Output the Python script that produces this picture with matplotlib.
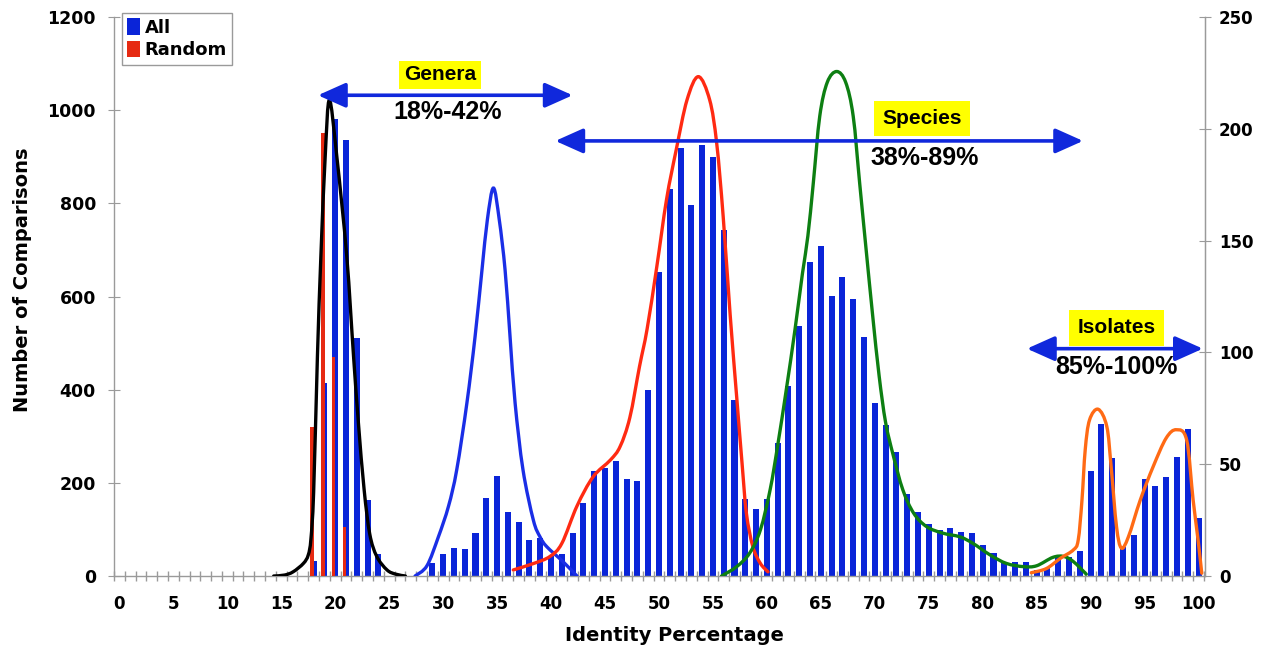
import numpy as np
import matplotlib
matplotlib.use("Agg")
import matplotlib.pyplot as plt
from matplotlib.path import Path
from matplotlib.patches import PathPatch, Patch

# ---------------- data ----------------
identity = list(range(101))
all_counts = [
    0, 0, 0, 0, 0, 0, 0, 0, 0, 0,            # 0-9
    0, 0, 0, 0, 0, 0, 0, 0, 32, 414,         # 10-19
    982, 937, 511, 163, 47, 0, 0, 0, 0, 27,  # 20-29
    47, 61, 58, 93, 168, 215, 138, 115, 77, 81,        # 30-39
    42, 47, 93, 157, 225, 231, 246, 208, 204, 400,     # 40-49
    652, 831, 919, 797, 926, 899, 743, 377, 165, 143,  # 50-59
    165, 286, 407, 536, 674, 709, 602, 641, 595, 512,  # 60-69
    371, 324, 267, 175, 138, 111, 99, 104, 94, 93,     # 70-79
    66, 50, 29, 31, 31, 12, 18, 42, 40, 54,            # 80-89
    226, 326, 253, 63, 88, 208, 193, 212, 256, 316,    # 90-99
    125,                                               # 100
]
random_pos = [18, 19, 20, 21]
random_counts = [320, 952, 470, 105]

black_x = [14.3, 15.3, 16.1, 17.05, 17.5, 17.75, 18.0, 18.35, 18.67, 19.07, 19.46,
           20.15, 21.07, 21.7, 22.15, 22.68, 23.2, 23.85, 24.8, 25.6, 26.5]
black_y = [0, 2, 9, 27, 45, 80, 180, 471, 686, 900, 1022,
           900, 686, 471, 328, 185, 90, 42, 13, 4, 0]

blue_x = [27.4, 28.5, 29.56, 30.5, 31.26, 32.2, 32.96, 33.6, 34.1, 34.66,
          35.2, 35.74, 36.2, 36.67, 37.4, 38.36, 38.98, 39.6, 41.1, 42.4]
blue_y = [0, 22, 84, 150, 228, 371, 514, 657, 765, 833,
          765, 657, 514, 371, 228, 120, 84, 63, 31, 0]

red_x = [36.5, 38.4, 39.9, 41.0, 42.4, 43.9, 45.5, 46.4, 47.3, 48.2, 48.9, 49.8,
         50.7, 51.6, 52.6, 53.65, 54.7, 55.35, 55.95, 56.6, 57.2, 57.7, 58.1,
         58.7, 59.4, 60.1]
red_y = [13, 27, 42, 70, 150, 213, 249, 278, 340, 450, 530, 664,
         808, 915, 1022, 1072, 1022, 929, 772, 560, 385, 242, 135,
         63, 27, 9]

green_x = [55.8, 57.2, 58.4, 59.4, 60.3, 61.0, 61.8, 62.6, 63.3, 63.8, 64.3, 64.9,
           65.6, 66.47, 67.3, 68.0, 68.6, 69.2, 69.8, 70.4, 71.0, 71.7, 72.6,
           73.6, 74.8, 76.3, 77.9, 79.1, 80.7, 82.2, 83.8, 85.0, 86.5, 87.5,
           88.4, 89.6]
green_y = [0, 20, 49, 99, 185, 280, 400, 528, 650, 730, 843, 987,
           1060, 1083, 1060, 987, 843, 700, 560, 430, 330, 260, 185,
           135, 106, 92, 84, 70, 45, 27, 20, 22, 40, 42,
           31, 4]

orange_x = [84.5, 85.9, 87.2, 88.4, 88.85, 89.2, 89.5, 89.9, 90.7, 91.5, 91.9,
            92.4, 92.85, 93.5, 94.6, 95.8, 97.0, 97.95, 98.9, 99.5, 99.96, 100.3]
orange_y = [7, 16, 38, 56, 77, 163, 271, 335, 358, 321, 235,
            106, 60, 84, 163, 235, 296, 314, 292, 163, 77, 6]

x_major = list(range(0, 101, 5))
left_ticks = [0, 200, 400, 600, 800, 1000, 1200]
right_ticks = [0, 50, 100, 150, 200, 250]

# annotation ranges (arrow ends and height, in data units)
genera_span = (18.4, 42.0, 1032)
species_span = (40.4, 89.3, 934)
isolates_span = (84.1, 100.4, 488)

# ---------------- styling ----------------
BLUE_BAR = "#0a24d8"
RED_BAR = "#e62a12"
ARROW_BLUE = "#1028dc"
GREY = "#9a9a9a"

plt.rcParams["font.family"] = ["DejaVu Sans"]

fig = plt.figure(figsize=(12.67, 6.52), dpi=100)
L, R, B, T = 114 / 1267, 1205 / 1267, 1 - 576 / 652, 1 - 17 / 652
ax = fig.add_axes([L, B, R - L, T - B])

ax.bar(identity, all_counts, width=0.56, color=BLUE_BAR, zorder=2)
ax.bar([p - 0.15 for p in random_pos], random_counts, width=0.33, color=RED_BAR, zorder=3)


def smooth_path(xs, ys):
    pts = np.column_stack([xs, ys]).astype(float)
    n = len(pts)
    verts = [pts[0]]
    codes = [Path.MOVETO]
    for i in range(n - 1):
        p0 = pts[i - 1] if i > 0 else pts[i]
        p1 = pts[i]
        p2 = pts[i + 1]
        p3 = pts[i + 2] if i + 2 < n else pts[i + 1]
        c1 = p1 + (p2 - p0) / 6.0
        c2 = p2 - (p3 - p1) / 6.0
        verts += [c1, c2, p2]
        codes += [Path.CURVE4] * 3
    return Path(verts, codes)


for xs, ys, col in [(black_x, black_y, "black"), (blue_x, blue_y, "#1a2ee6"),
                    (red_x, red_y, "#ff2a12"), (green_x, green_y, "#0d7f12"),
                    (orange_x, orange_y, "#ff6a14")]:
    ax.add_patch(PathPatch(smooth_path(xs, ys), fill=False, edgecolor=col,
                           lw=2.4, zorder=4, capstyle="round", joinstyle="round"))

ax.set_xlim(-0.5, 100.6)
ax.set_ylim(0, 1200)

ax.spines["top"].set_visible(False)
for s in ["left", "bottom", "right"]:
    ax.spines[s].set_color(GREY)
    ax.spines[s].set_linewidth(1.0)

ax.set_xticks(x_major)
ax.set_xticks(np.arange(-0.5, 101, 1.0), minor=True)
ax.tick_params(axis="x", which="major", length=0, pad=14, labelsize=12)
ax.tick_params(axis="x", which="minor", length=7, direction="inout", color=GREY, width=1)
for lab in ax.get_xticklabels():
    lab.set_fontweight("bold")

ax.set_yticks(left_ticks)
ax.tick_params(axis="y", which="major", length=8, direction="inout", color=GREY,
               labelsize=12.5, pad=9)
for lab in ax.get_yticklabels():
    lab.set_fontweight("bold")

ax2 = ax.twinx()
ax2.set_ylim(0, 250)
ax2.set_yticks(right_ticks)
ax2.spines["top"].set_visible(False)
ax2.spines["left"].set_visible(False)
ax2.spines["bottom"].set_visible(False)
ax2.spines["right"].set_color(GREY)
ax2.tick_params(axis="y", length=8, direction="inout", color=GREY, labelsize=12, pad=6)
for lab in ax2.get_yticklabels():
    lab.set_fontweight("bold")

ax.set_xlabel("Identity Percentage", fontsize=14, fontweight="bold")
ax.xaxis.set_label_coords((674.5 - 114) / 1091, (576 - 626) / 559)
ax.set_ylabel("Number of Comparisons", fontsize=14, fontweight="bold")
ax.yaxis.set_label_coords(-0.075, (576 - 280) / 559)

# legend
handles = [Patch(facecolor=BLUE_BAR, edgecolor="none", label="All"),
           Patch(facecolor=RED_BAR, edgecolor="none", label="Random")]
leg = ax.legend(handles=handles, loc="upper left",
                bbox_to_anchor=(122 / 1267, 1 - 13 / 652), bbox_transform=fig.transFigure,
                borderaxespad=0, fancybox=False, framealpha=1, edgecolor=GREY,
                prop={"weight": "bold", "size": 13}, handlelength=0.7,
                handleheight=1.0, handletextpad=0.25, labelspacing=0.25, borderpad=0.3)
leg.get_frame().set_linewidth(1.0)
leg.set_zorder(10)

# range arrows + labels
ann_font = ["Liberation Sans", "DejaVu Sans"]
for (x0, x1, yv) in [genera_span, species_span, isolates_span]:
    ax.annotate("", xy=(x1, yv), xytext=(x0, yv), xycoords="data",
                arrowprops=dict(arrowstyle="<|-|>,head_length=0.85,head_width=0.38",
                                color=ARROW_BLUE, lw=2.6, shrinkA=0, shrinkB=0,
                                mutation_scale=20), zorder=6)

box = dict(boxstyle="square,pad=0.22", fc="#ffff00", ec="none")
wide_box = dict(boxstyle="square,pad=0.4", fc="#ffff00", ec="none")
ax.text(29.7, 1076, "Genera", ha="center", va="center", fontsize=15, fontweight="bold",
        family=ann_font, bbox=box, zorder=7)
ax.text(30.4, 997, "18%-42%", ha="center", va="center", fontsize=18, fontweight="bold",
        family=ann_font, zorder=7)
ax.text(74.4, 982, "Species", ha="center", va="center", fontsize=15, fontweight="bold",
        family=ann_font, bbox=wide_box, zorder=7)
ax.text(74.6, 898, "38%-89%", ha="center", va="center", fontsize=18, fontweight="bold",
        family=ann_font, zorder=7)
ax.text(92.4, 533, "Isolates", ha="center", va="center", fontsize=15, fontweight="bold",
        family=ann_font, bbox=wide_box, zorder=7)
ax.text(92.4, 449, "85%-100%", ha="center", va="center", fontsize=18, fontweight="bold",
        family=ann_font, zorder=7)

fig.savefig("out.png", dpi=100)
